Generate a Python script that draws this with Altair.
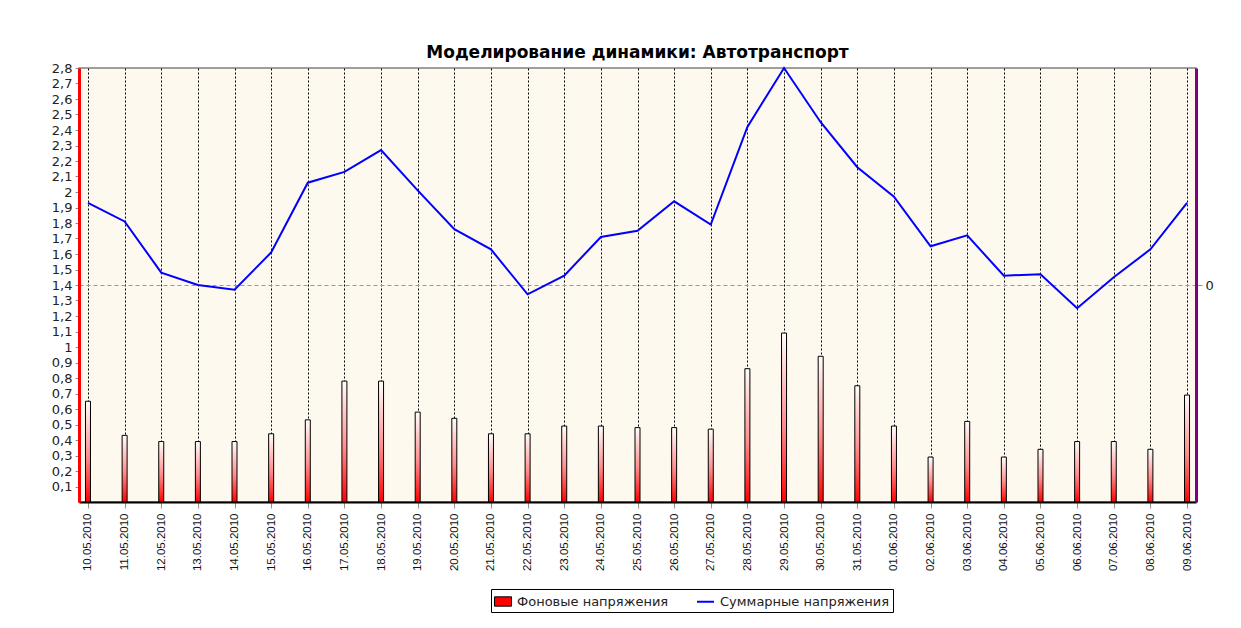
import altair as alt
import pandas as pd

dates = ["10.05.2010", "11.05.2010", "12.05.2010", "13.05.2010", "14.05.2010",
         "15.05.2010", "16.05.2010", "17.05.2010", "18.05.2010", "19.05.2010",
         "20.05.2010", "21.05.2010", "22.05.2010", "23.05.2010", "24.05.2010",
         "25.05.2010", "26.05.2010", "27.05.2010", "28.05.2010", "29.05.2010",
         "30.05.2010", "31.05.2010", "01.06.2010", "02.06.2010", "03.06.2010",
         "04.06.2010", "05.06.2010", "06.06.2010", "07.06.2010", "08.06.2010",
         "09.06.2010"]

background = [0.65, 0.43, 0.39, 0.39, 0.39, 0.44, 0.53, 0.78, 0.78, 0.58,
              0.54, 0.44, 0.44, 0.49, 0.49, 0.48, 0.48, 0.47, 0.86, 1.09,
              0.94, 0.75, 0.49, 0.29, 0.52, 0.29, 0.34, 0.39, 0.39, 0.34,
              0.69]

total = [1.93, 1.81, 1.48, 1.40, 1.37, 1.61, 2.06, 2.13, 2.27, 2.01,
         1.76, 1.63, 1.34, 1.46, 1.71, 1.75, 1.94, 1.79, 2.42, 2.80,
         2.45, 2.16, 1.97, 1.65, 1.72, 1.46, 1.47, 1.25, 1.45, 1.63,
         1.93]

y_ticks = [0.1, 0.2, 0.3, 0.4, 0.5, 0.6, 0.7, 0.8, 0.9, 1.0,
           1.1, 1.2, 1.3, 1.4, 1.5, 1.6, 1.7, 1.8, 1.9, 2.0,
           2.1, 2.2, 2.3, 2.4, 2.5, 2.6, 2.7, 2.8]

right_ticks = [1.4]
right_labels = ["0"]

series_names = ["Фоновые напряжения", "Суммарные напряжения"]
title_text = "Моделирование динамики: Автотранспорт"

bar_df = pd.DataFrame({"date": dates, "value": background, "series": series_names[0]})
line_df = pd.DataFrame({"date": dates, "value": total, "series": series_names[1]})
both_df = pd.concat([bar_df, line_df], ignore_index=True)

LABEL_FONT = "DejaVu Sans, Verdana, sans-serif"
NARROW_FONT = "Liberation Sans, Arial, sans-serif"

x_enc = alt.X(
    "date:O",
    sort=dates,
    scale=alt.Scale(type="point", padding=0.245),
    axis=alt.Axis(
        title=None,
        labelAngle=-90,
        labelFont=NARROW_FONT,
        labelFontSize=11.5,
        labelColor="#111111",
        labelPadding=5,
        tickColor="#909090",
        tickSize=6,
        domainColor="black",
        domainWidth=2,
        grid=True,
        gridColor="black",
        gridDash=[2, 2],
        gridWidth=1,
        labelOverlap=False,
    ),
)

y_scale = alt.Scale(domain=[0, 2.8], nice=False, zero=True)

legend = alt.Legend(
    title=None,
    orient="none",
    legendX=412,
    legendY=521,
    direction="horizontal",
    strokeColor="black",
    fillColor="white",
    padding=3,
    symbolSize=289,
    symbolOpacity=1,
    columnPadding=24,
    labelFont=LABEL_FONT,
    labelFontSize=13,
    labelColor="#222222",
    labelOffset=5,
    labelLimit=300,
)

gradient = alt.Gradient(
    gradient="linear",
    x1=0, x2=0, y1=0, y2=1,
    stops=[
        alt.GradientStop(offset=0, color="#FFFFFF"),
        alt.GradientStop(offset=0.55, color="#FF8C8C"),
        alt.GradientStop(offset=1, color="#FF0000"),
    ],
)

bars = alt.Chart(bar_df).mark_bar(size=5, fill=gradient, stroke="black", strokeWidth=1, opacity=1).encode(
    x=x_enc,
    y=alt.Y(
        "value:Q",
        scale=y_scale,
        axis=alt.Axis(
            title=None,
            orient="left",
            values=y_ticks,
            labelExpr="replace(format(datum.value, '.2~g'), '.', ',')",
            labelFont=LABEL_FONT,
            labelFontSize=13,
            labelColor="#222222",
            labelPadding=3,
            tickColor="#909090",
            tickSize=4,
            domainColor="#FF0000",
            domainWidth=3,
            grid=False,
        ),
    ),
)

line = alt.Chart(line_df).mark_line(strokeWidth=2, stroke="#0000FF").encode(
    x=x_enc,
    y=alt.Y(
        "value:Q",
        scale=y_scale,
        axis=alt.Axis(
            title=None,
            orient="right",
            values=right_ticks,
            labelExpr="'" + right_labels[0] + "'",
            labelFont=LABEL_FONT,
            labelFontSize=13,
            labelColor="#222222",
            labelPadding=3,
            tickColor="#909090",
            tickSize=6,
            domainColor="#800080",
            domainWidth=3,
            grid=True,
            gridColor="#999999",
            gridDash=[4, 3],
            gridWidth=1,
        ),
    ),
)

# invisible helper layer that only supplies the combined legend
helper = alt.Chart(both_df).mark_point(opacity=0).encode(
    x=x_enc,
    y=alt.Y("value:Q", scale=y_scale, axis=None),
    shape=alt.Shape("series:N", scale=alt.Scale(domain=series_names, range=["M-1,-0.55H1V0.55H-1Z", "stroke"]), legend=legend),
    fill=alt.Fill("series:N", scale=alt.Scale(domain=series_names, range=["#FF0000", "transparent"]), legend=legend),
    stroke=alt.Stroke("series:N", scale=alt.Scale(domain=series_names, range=["black", "#0000FF"]), legend=legend),
    strokeWidth=alt.StrokeWidth("series:N", scale=alt.Scale(domain=series_names, range=[1, 2]), legend=legend),
)

chart = (
    alt.layer(bars, line, helper)
    .resolve_scale(y="independent")
    .properties(
        width=1117,
        height=434,
        title=alt.TitleParams(
            text=title_text,
            font=LABEL_FONT,
            fontSize=17,
            fontWeight="bold",
            color="black",
            offset=0,
            anchor="middle",
        ),
        autosize=alt.AutoSizeParams(type="none"),
        padding={"left": 71, "top": 60, "right": 37, "bottom": 118},
    )
    .configure_view(fill="#FEF9EE", stroke="#808080", strokeWidth=1.5)
)

chart.save("out.html", embed_options={"renderer": "svg", "actions": False})
